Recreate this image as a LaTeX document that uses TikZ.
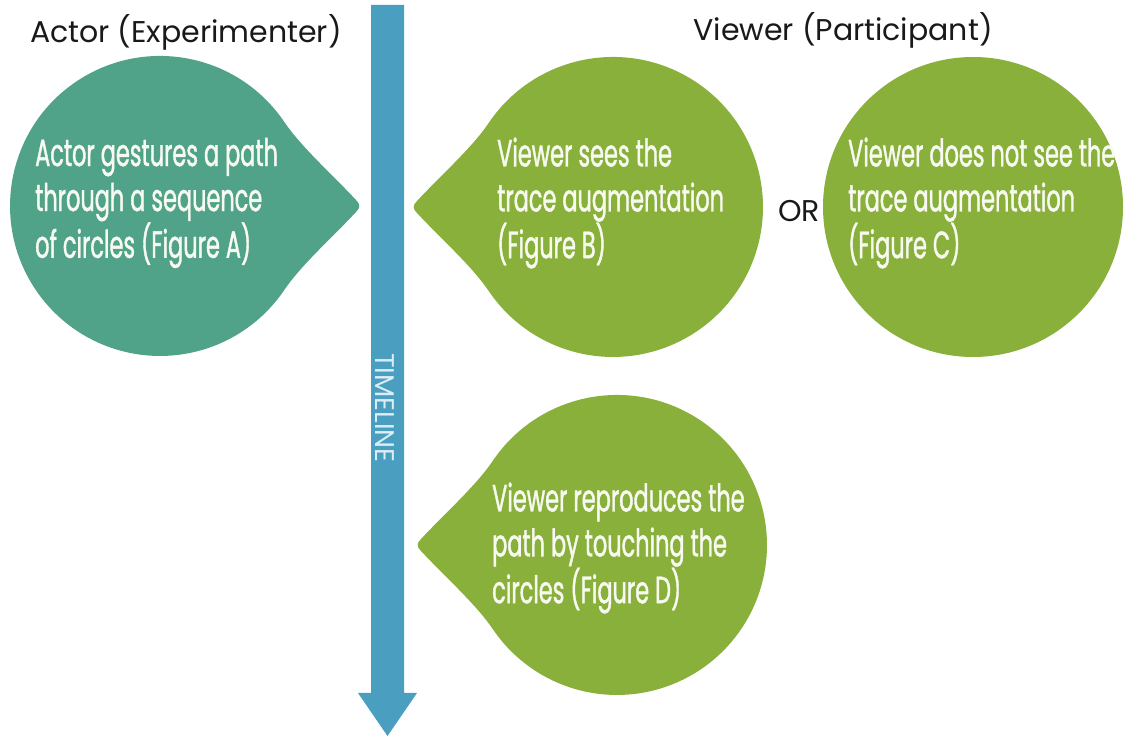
\documentclass[tikz,border=0pt]{standalone}
\usepackage{fontspec}
\setmainfont{Poppins}
\newfontfamily\bubblefont[FakeStretch=0.59,FakeBold=1]{Poppins}
\definecolor{tealc}{RGB}{80,162,136}
\definecolor{greenc}{RGB}{137,176,58}
\definecolor{bluec}{RGB}{74,158,192}
\definecolor{txtw}{RGB}{248,250,242}
\definecolor{tlc}{RGB}{220,238,245}
\tikzset{
  pics/bubbleR/.style={code={
    \fill (196,-6) .. controls (200.5,-1.6) and (200.5,1.6) .. (196,6)
      .. controls (172.2,31.6) and (141.2,59) .. (124.4,83.9)
      arc[start angle=34,end angle=326,radius=150pt]
      .. controls (141.2,-59) and (172.2,-31.6) .. cycle;}},
  pics/bubbleL/.style={code={
    \fill (-196,-6) .. controls (-200.5,-1.6) and (-200.5,1.6) .. (-196,6)
      .. controls (-172.2,31.6) and (-141.2,59) .. (-124.4,83.9)
      arc[start angle=146,end angle=-146,radius=150pt]
      .. controls (-141.2,-59) and (-172.2,-31.6) .. cycle;}},
  titletext/.style={text=black!90, font=\fontsize{30}{36}\selectfont, inner sep=0pt},
  btext/.style={text=txtw, align=left, anchor=west, inner sep=0pt,
    font=\bubblefont\fontsize{38}{45}\selectfont},
}
\begin{document}
\begin{tikzpicture}[x=1pt,y=1pt]
\useasboundingbox (0,0) rectangle (1127,736);
% timeline
\fill[bluec] (371,731) -- (404,731) -- (404,43) -- (417,43) -- (387.5,0) -- (358,43) -- (371,43) -- cycle;
\node[rotate=-90, text=tlc, font=\fontsize{27}{30}\selectfont, inner sep=0pt] (tl) at (385,328) {TIMELINE};
% titles
\node[titletext] (actor) at (186,704) {Actor (Experimenter)};
\node[titletext] (viewer) at (843,706) {Viewer (Participant)};
% bubbles
\pic[tealc] (bA) at (160,530) {bubbleR};
\pic[greenc] (bB) at (613,529) {bubbleL};
\fill[greenc] (973,529) circle[radius=150pt];
\pic[greenc] (bD) at (617,191) {bubbleL};
% texts
\node[btext] (tA) at (35,533) {Actor gestures a path\\through a sequence\\of circles (Figure A)};
\node[btext] (tB) at (497,533) {Viewer sees the\\trace augmentation\\(Figure B)};
\node[btext] (tC) at (848,533) {Viewer does not see the\\trace augmentation\\(Figure C)};
\node[btext] (tD) at (492,188) {Viewer reproduces the\\path by touching the\\circles (Figure D)};
\node[titletext] (or) at (799,525) {OR};
\end{tikzpicture}
\end{document}
